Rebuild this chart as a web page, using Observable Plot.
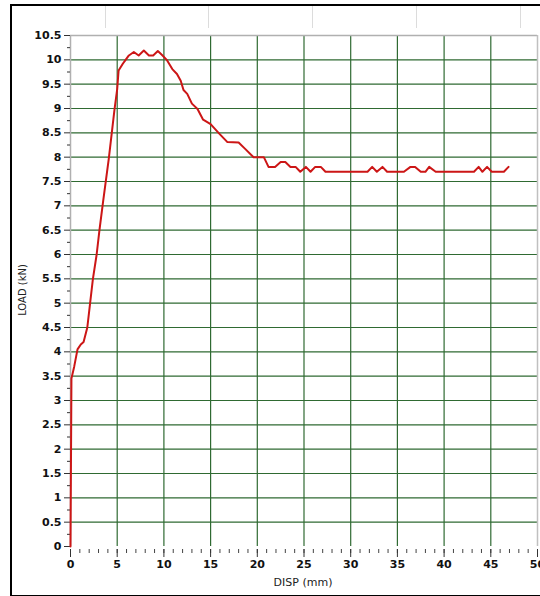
<!DOCTYPE html>
<html><head><meta charset="utf-8">
<script src="https://cdn.jsdelivr.net/npm/d3@7"></script>
<script src="https://cdn.jsdelivr.net/npm/@observablehq/plot@0.6"></script>
<style>
html,body{margin:0;padding:0;background:#fff;}
#wrap{position:relative;width:540px;height:596px;overflow:hidden;}
#frame{position:absolute;left:10px;top:4px;width:540px;height:589px;border:2px solid #000;border-right:none;box-sizing:content-box;pointer-events:none;}
.hdr{position:absolute;top:6px;width:1px;height:22px;background:#dcdcdc;}
</style></head>
<body><div id="wrap"><div id="frame"></div></div>
<script>
const disp = [0, 0.1, 0.4, 0.75, 1.1, 1.4, 1.8, 2.1, 2.4, 2.8, 3.1, 3.5, 4.1, 4.7, 5.0, 5.15, 5.6, 5.9, 6.25, 6.78, 7.3, 7.85, 8.4, 8.85, 9.35, 9.8, 10.3, 10.9, 11.4, 11.8, 12.1, 12.5, 13.0, 13.6, 14.2, 15.0, 15.9, 16.8, 18.0, 18.7, 19.6, 20.7, 21.2, 21.9, 22.5, 23.0, 23.55, 24.1, 24.6, 25.2, 25.7, 26.2, 26.8, 27.3, 31.8, 32.3, 32.8, 33.4, 33.9, 35.7, 36.4, 36.9, 37.5, 38.0, 38.4, 39.1, 43.2, 43.7, 44.1, 44.6, 45.1, 46.4, 46.9];
const load = [0, 3.45, 3.7, 4.05, 4.15, 4.2, 4.5, 5.0, 5.5, 6.0, 6.5, 7.1, 7.97, 8.96, 9.4, 9.78, 9.92, 10.0, 10.09, 10.16, 10.09, 10.19, 10.09, 10.09, 10.18, 10.1, 10.0, 9.81, 9.71, 9.57, 9.38, 9.3, 9.1, 8.99, 8.77, 8.68, 8.49, 8.31, 8.3, 8.17, 8.0, 8.0, 7.8, 7.8, 7.9, 7.9, 7.8, 7.8, 7.7, 7.8, 7.7, 7.8, 7.8, 7.7, 7.7, 7.8, 7.7, 7.8, 7.7, 7.7, 7.8, 7.8, 7.7, 7.7, 7.8, 7.7, 7.7, 7.8, 7.7, 7.8, 7.7, 7.7, 7.8];
const xMajor = [0, 5, 10, 15, 20, 25, 30, 35, 40, 45, 50];
const xMinor = d3.range(0, 51, 1);
const yMajor = [0, 0.5, 1, 1.5, 2, 2.5, 3, 3.5, 4, 4.5, 5, 5.5, 6, 6.5, 7, 7.5, 8, 8.5, 9, 9.5, 10, 10.5];
const yMinor = d3.range(0.25, 10.5, 0.5);
const xGrid = [5, 10, 15, 20, 25, 30, 35, 40, 45];
const yGrid = [0.5, 1, 1.5, 2, 2.5, 3, 3.5, 4, 4.5, 5, 5.5, 6, 6.5, 7, 7.5, 8, 8.5, 9, 9.5, 10];
const xLabel = "DISP (mm)";
const yLabel = "LOAD (kN)";

const data = disp.map((d, i) => ({disp: d, load: load[i]}));
const green = "#2f6a32";
const fmt = d => String(d);

const chart = Plot.plot({
  width: 540, height: 596,
  marginLeft: 70, marginRight: 3, marginTop: 35, marginBottom: 50,
  style: {fontFamily: "DejaVu Sans, Verdana, sans-serif", background: "transparent"},
  x: {domain: [0, 50], label: null},
  y: {domain: [0, 10.5], label: null},
  marks: [
    Plot.ruleX(xGrid, {stroke: green, strokeWidth: 1.2}),
    Plot.ruleY(yGrid, {stroke: green, strokeWidth: 1.2}),
    Plot.ruleY([10.5], {stroke: "#b0b0b0", strokeWidth: 1.5}),
    Plot.ruleX([50], {stroke: "#c0c0c0", strokeWidth: 1.5}),
    Plot.ruleX([0], {stroke: "#b0b0b0", strokeWidth: 1.5}),
    Plot.axisY({ticks: yMajor, tickSize: 6, tickPadding: 3, tickFormat: fmt, fontSize: 11, fontWeight: "bold", stroke: "#333", fill: "#111", label: null}),
    Plot.axisY({ticks: yMinor, tickSize: 3, tickFormat: () => "", stroke: "#333", label: null}),
    Plot.axisX({ticks: xMinor, tickSize: 4, tickFormat: () => "", stroke: "#444", dy: 3, label: null}),
    Plot.axisX({ticks: xMajor, tickSize: 8, tickPadding: 3, tickFormat: fmt, fontSize: 11, fontWeight: "bold", stroke: "#333", fill: "#111", dy: 3, label: null}),
    Plot.line(data, {x: "disp", y: "load", stroke: "#cc1616", strokeWidth: 2})
  ]
});

const svg = d3.select(chart);
svg.append("text").attr("x", 303).attr("y", 586).attr("text-anchor", "middle")
  .attr("font-size", 11).attr("fill", "#222").text(xLabel);
svg.append("text").attr("transform", "translate(26,290) rotate(-90)").attr("text-anchor", "middle")
  .attr("font-size", 10).attr("fill", "#222").text(yLabel);

const wrap = document.getElementById("wrap");
wrap.insertBefore(chart, wrap.firstChild);
[105, 208, 312, 416, 520].forEach(x => {
  const d = document.createElement("div"); d.className = "hdr"; d.style.left = x + "px"; wrap.appendChild(d);
});
</script></body></html>
